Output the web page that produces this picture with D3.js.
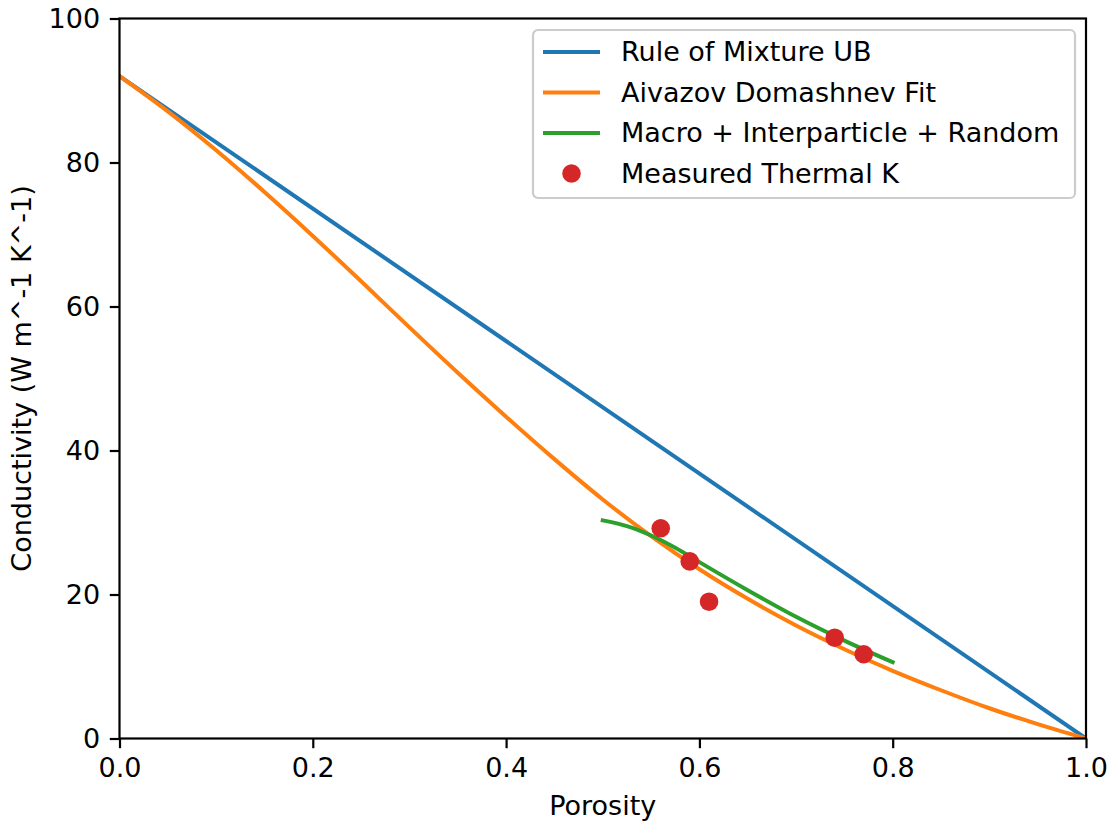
<!DOCTYPE html>
<html>
<head>
<meta charset="utf-8">
<script src="https://cdn.jsdelivr.net/npm/d3@7"></script>
<style>
	body { margin: 0; background: #fff; }
	text { font-family: "DejaVu Sans", sans-serif; fill: #000; }
</style>
</head>
<body>
<script>
// rule of mixture upper bound (straight line)
var ubPorosity = [0, 1];
var ubK = [92, 0];

// Aivazov Domashnev fit
var fitPorosity = [0, 0.05, 0.1, 0.15, 0.2, 0.25, 0.3, 0.35, 0.4, 0.45, 0.5, 0.55, 0.6, 0.65, 0.7, 0.75, 0.8, 0.85, 0.9, 0.95, 1.0];
var fitK = [92, 87.1, 81.7, 75.9, 69.8, 63.5, 57.1, 50.8, 44.7, 38.8, 33.2, 28.1, 23.5, 19.4, 15.7, 12.4, 9.4, 6.7, 4.2, 2.0, 0];

// macro + interparticle + random model
var modelPorosity = [0.5, 0.525, 0.55, 0.575, 0.6, 0.65, 0.7, 0.75, 0.8];
var modelK = [30.3, 29.5, 28.2, 26.5, 24.5, 20.6, 16.9, 13.6, 10.6];

// measured points
var measPorosity = [0.56, 0.59, 0.61, 0.74, 0.77];
var measK = [29.2, 24.6, 19.0, 14.0, 11.7];

var xTicks = [0, 0.2, 0.4, 0.6, 0.8, 1.0];
var yTicks = [0, 20, 40, 60, 80, 100];

var legendLabels = ["Rule of Mixture UB", "Aivazov Domashnev Fit", "Macro + Interparticle + Random", "Measured Thermal K"];
var colors = ["#1f77b4", "#ff7f0e", "#2ca02c", "#d62728"];

var margin = {top: 18.5, right: 26, bottom: 84.5, left: 119.5};
var width = 1112 - margin.left - margin.right;
var height = 823 - margin.top - margin.bottom;

var svg = d3.select("body").append("svg")
	.attr("width", 1112)
	.attr("height", 823)
	.append("g")
	.attr("transform", "translate(" + margin.left + "," + margin.top + ")");

var xScale = d3.scaleLinear().domain([0, 1]).range([0, width]);
var yScale = d3.scaleLinear().domain([0, 100]).range([height, 0]);

svg.append("defs").append("clipPath").attr("id", "plotClip")
	.append("rect").attr("x", 0).attr("y", 0).attr("width", width).attr("height", height);

function zip(xs, ys){
	return xs.map(function(v, i){ return [v, ys[i]]; });
}

var line = d3.line()
	.x(function(d){ return xScale(d[0]); })
	.y(function(d){ return yScale(d[1]); })
	.curve(d3.curveMonotoneX);

var plot = svg.append("g").attr("clip-path", "url(#plotClip)");

var series = [zip(ubPorosity, ubK), zip(fitPorosity, fitK), zip(modelPorosity, modelK)];
series.forEach(function(s, i){
	plot.append("path")
		.datum(s)
		.attr("d", line)
		.attr("fill", "none")
		.attr("stroke", colors[i])
		.attr("stroke-width", 4)
		.attr("stroke-linecap", "square");
});

plot.selectAll(".meas")
	.data(zip(measPorosity, measK))
	.enter().append("circle")
	.attr("class", "meas")
	.attr("cx", function(d){ return xScale(d[0]); })
	.attr("cy", function(d){ return yScale(d[1]); })
	.attr("r", 9.3)
	.attr("fill", colors[3]);

// axes
var xAxis = d3.axisBottom(xScale).tickValues(xTicks).tickFormat(d3.format(".1f")).tickSize(9.7).tickPadding(9.7);
var yAxis = d3.axisLeft(yScale).tickValues(yTicks).tickFormat(d3.format("d")).tickSize(9.7).tickPadding(9.7);

var gx = svg.append("g").attr("transform", "translate(0," + height + ")").call(xAxis);
var gy = svg.append("g").call(yAxis);

[gx, gy].forEach(function(g){
	g.select(".domain").remove();
	g.selectAll(".tick line").attr("stroke", "#000").attr("stroke-width", 2.2);
	g.selectAll(".tick text").attr("font-size", 27).attr("font-family", "DejaVu Sans");
});

// frame
svg.append("rect")
	.attr("x", 0).attr("y", 0)
	.attr("width", width).attr("height", height)
	.attr("fill", "none")
	.attr("stroke", "#000")
	.attr("stroke-width", 2.2);

svg.append("text")
	.attr("x", width / 2)
	.attr("y", 815 - margin.top)
	.attr("text-anchor", "middle")
	.attr("font-size", 27)
	.text("Porosity");

svg.append("text")
	.attr("transform", "translate(" + (31 - margin.left) + "," + (height / 2) + ") rotate(-90)")
	.attr("text-anchor", "middle")
	.attr("font-size", 27)
	.text("Conductivity (W m^-1 K^-1)");

// legend
var legend = svg.append("g").attr("transform", "translate(" + (533 - margin.left) + "," + (30 - margin.top) + ")");
legend.append("rect")
	.attr("width", 542).attr("height", 168)
	.attr("rx", 5).attr("ry", 5)
	.attr("fill", "#fff").attr("fill-opacity", 0.8)
	.attr("stroke", "#cccccc").attr("stroke-width", 2.2);

legendLabels.forEach(function(label, i){
	var cy = 22 + i * 40.5;
	if (i < 3) {
		legend.append("line")
			.attr("x1", 10).attr("x2", 67)
			.attr("y1", cy).attr("y2", cy)
			.attr("stroke", colors[i]).attr("stroke-width", 4);
	} else {
		legend.append("circle").attr("cx", 38.5).attr("cy", cy).attr("r", 9.3).attr("fill", colors[i]);
	}
	legend.append("text")
		.attr("x", 88)
		.attr("y", cy)
		.attr("dy", "0.35em")
		.attr("font-size", 27)
		.text(label);
});
</script>
</body>
</html>
